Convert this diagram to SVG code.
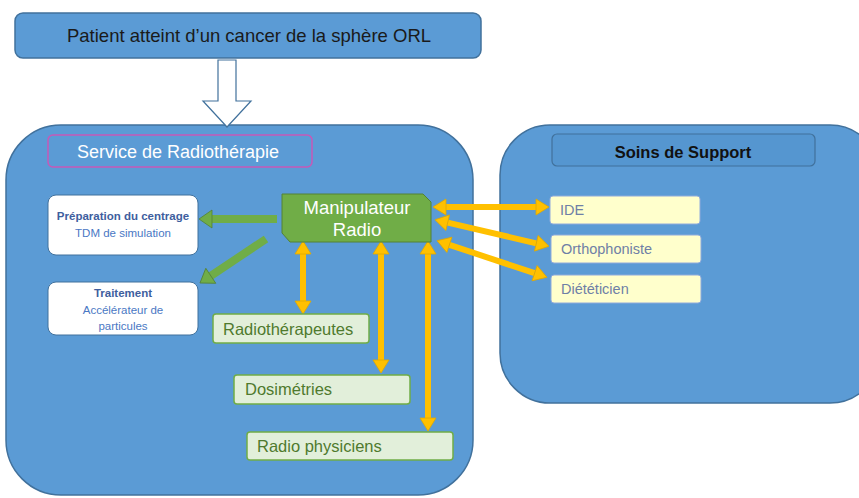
<svg xmlns="http://www.w3.org/2000/svg" width="859" height="498" viewBox="0 0 859 498">
<defs>
<style>
.cont{fill:#5b9bd5;stroke:#41719c;stroke-width:1.5}
.t{font-family:"Liberation Sans",Arial,sans-serif}
.wh{fill:#fff}
.grn{fill:#e2efda;stroke:#70ad47;stroke-width:1.5}
.gtx{fill:#4f7a2e;font-size:16.5px}
.yel{fill:#ffffcc;stroke:#8faadc;stroke-width:1}
.ytx{fill:#6f7fa6;font-size:14.5px}
.wbox{fill:#fff;stroke:#41719c;stroke-width:1}
.btx{font-size:11.5px;text-anchor:middle}
.or{stroke:#ffc000;stroke-width:6;fill:none}
.gr{stroke:#70ad47;stroke-width:8;fill:none}
</style>
<marker id="oh" markerUnits="userSpaceOnUse" markerWidth="14" markerHeight="18" refX="0" refY="9" orient="auto-start-reverse" overflow="visible">
<path d="M0,1 L13,9 L0,17 z" fill="#ffc000" stroke="#e0a800" stroke-width="0.8"/>
</marker>
<marker id="gh" markerUnits="userSpaceOnUse" markerWidth="14" markerHeight="20" refX="0" refY="10" orient="auto" overflow="visible">
<path d="M0,1 L13,10 L0,19 z" fill="#70ad47" stroke="#548235" stroke-width="0.8"/>
</marker>
</defs>
<rect width="859" height="498" fill="#fff"/>

<g id="patient">
<rect class="cont" x="15" y="13" width="466" height="45" rx="8"/>
<text class="t" x="249" y="42" font-size="18.5" text-anchor="middle" fill="#1a1a1a">Patient atteint d’un cancer de la sphère ORL</text>
</g>

<g id="radiotherapie">
<rect class="cont" x="6" y="125" width="467" height="370" rx="55"/>
<rect x="48" y="135" width="264" height="32" rx="5" fill="#5b9bd5" stroke="#c659b8" stroke-width="1.5"/>
<text class="t wh" x="77" y="158" font-size="18">Service de Radiothérapie</text>
</g>

<g id="soins">
<rect class="cont" x="500" y="125" width="380" height="278" rx="50"/>
<rect x="552" y="134" width="263" height="32" rx="5" fill="#5596d0" stroke="#41719c" stroke-width="1.2"/>
<text class="t" x="683" y="158" font-size="16.5" font-weight="bold" text-anchor="middle" fill="#111">Soins de Support</text>
</g>

<g id="connectors">
<polygon points="218,60 236,60 236,101 251,101 227,127 203,101 218,101" fill="#fff" stroke="#41719c" stroke-width="1.2"/>
<line class="gr" x1="277" y1="219" x2="212" y2="219" marker-end="url(#gh)"/>
<line class="gr" x1="266" y1="239" x2="210.8" y2="275.8" marker-end="url(#gh)"/>
<line class="or" x1="303" y1="254" x2="303" y2="301" marker-start="url(#oh)" marker-end="url(#oh)"/>
<line class="or" x1="381" y1="254" x2="381" y2="360" marker-start="url(#oh)" marker-end="url(#oh)"/>
<line class="or" x1="428" y1="254" x2="428" y2="418" marker-start="url(#oh)" marker-end="url(#oh)"/>
<line class="or" x1="446" y1="207" x2="536" y2="207" marker-start="url(#oh)" marker-end="url(#oh)"/>
<line class="or" x1="447.7" y1="222.7" x2="536.3" y2="243.3" marker-start="url(#oh)" marker-end="url(#oh)"/>
<line class="or" x1="449.4" y1="244.8" x2="534.6" y2="273.2" marker-start="url(#oh)" marker-end="url(#oh)"/>
</g>

<g id="manipulateur">
<polygon points="282,194 423,194 431,202 431,242 290,242 282,233" fill="#70ad47" stroke="#548235" stroke-width="1"/>
<text class="t wh" x="357" y="214" font-size="18.5" text-anchor="middle">Manipulateur</text>
<text class="t wh" x="357" y="236" font-size="18.5" text-anchor="middle">Radio</text>
</g>

<g id="preparation">
<rect class="wbox" x="48" y="195" width="150" height="60" rx="8"/>
<text class="t btx" x="123" y="220" font-size="10.8" font-weight="bold" fill="#3e5e9e">Préparation du centrage</text>
<text class="t btx" x="123" y="237" fill="#4a78c4">TDM de simulation</text>
</g>

<g id="traitement">
<rect class="wbox" x="48" y="282" width="150" height="53" rx="8"/>
<text class="t btx" x="123" y="297" font-weight="bold" fill="#3e5e9e">Traitement</text>
<text class="t btx" x="123" y="314" fill="#4a78c4">Accélérateur de</text>
<text class="t btx" x="123" y="330" fill="#4a78c4">particules</text>
</g>

<g id="radiotherapeutes">
<rect class="grn" x="213" y="314" width="156" height="29" rx="3"/>
<text class="t gtx" x="223" y="335">Radiothérapeutes</text>
</g>

<g id="dosimetries">
<rect class="grn" x="234" y="375" width="176" height="29" rx="3"/>
<text class="t gtx" x="245" y="395">Dosimétries</text>
</g>

<g id="physiciens">
<rect class="grn" x="247" y="432" width="206" height="28" rx="3"/>
<text class="t gtx" x="257" y="452">Radio physiciens</text>
</g>

<g id="ide">
<rect class="yel" x="550" y="196" width="150" height="28" rx="3"/>
<text class="t ytx" x="560" y="215">IDE</text>
</g>

<g id="orthophoniste">
<rect class="yel" x="551" y="235" width="150" height="28" rx="3"/>
<text class="t ytx" x="561" y="254">Orthophoniste</text>
</g>

<g id="dieteticien">
<rect class="yel" x="551" y="275" width="150" height="28" rx="3"/>
<text class="t ytx" x="561" y="294">Diététicien</text>
</g>
</svg>
